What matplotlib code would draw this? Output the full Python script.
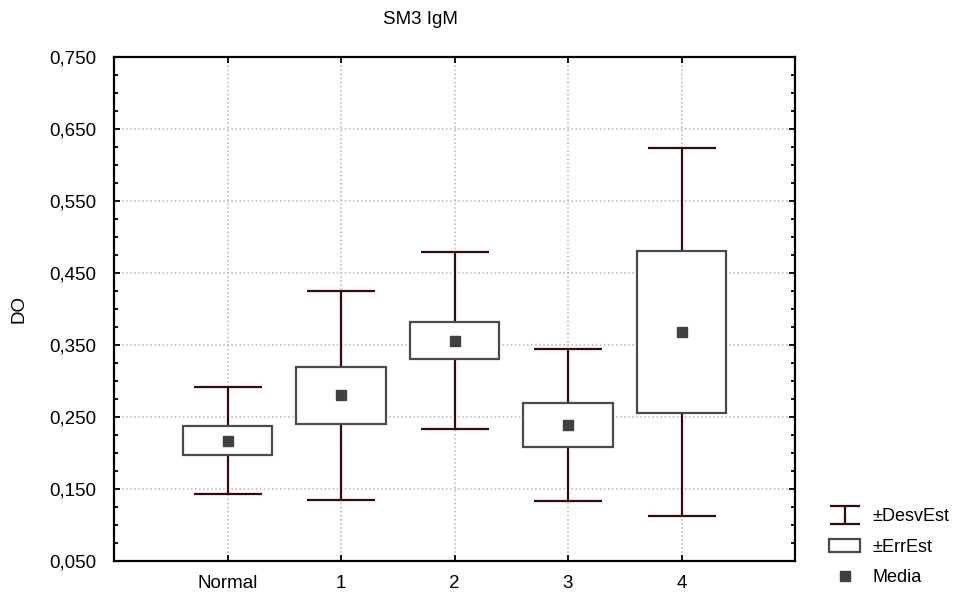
import numpy as np
import matplotlib
matplotlib.use("Agg")
import matplotlib.pyplot as plt
from matplotlib.ticker import FixedLocator, MultipleLocator, FuncFormatter

plt.rcParams['font.family'] = ['Liberation Sans', 'DejaVu Sans']

# data
groups = ["Normal", "1", "2", "3", "4"]
means = [0.217, 0.280, 0.356, 0.239, 0.368]
sd = [0.074, 0.145, 0.123, 0.106, 0.256]   # +-DesvEst (whiskers)
se = [0.020, 0.040, 0.026, 0.030, 0.113]   # +-ErrEst (boxes)

whisker_col = "#3a0808"
box_col = "#4a4a4a"

x = np.arange(len(groups))
means = np.array(means)
sd = np.array(sd)
se = np.array(se)

fig = plt.figure(figsize=(9.55, 5.95), dpi=100)
ax = fig.add_axes([114 / 955, 1 - 561 / 595, 681 / 955, 504 / 595])

ax.errorbar(x, means, yerr=sd, fmt='none', ecolor=whisker_col,
            elinewidth=1.6, capsize=24.5, capthick=1.6, zorder=2)
bars = ax.bar(x, 2 * se, bottom=means - se, width=0.79, facecolor="white",
              edgecolor=box_col, linewidth=1.6, zorder=3)
mk, = ax.plot(x, means, 's', color="#404040", ms=7, zorder=4, linestyle='none')

# legend proxy for the whiskers (smaller caps than the plotted ones)
eb_proxy = ax.errorbar([np.nan], [np.nan], yerr=[1], fmt='none', ecolor=whisker_col,
                       elinewidth=1.6, capsize=11, capthick=1.6)

ax.set_xlim(-1, len(groups))
ax.set_ylim(0.05, 0.75)
ax.set_xticks(x)
ax.set_xticklabels(groups)
ax.yaxis.set_major_locator(FixedLocator(np.arange(0.05, 0.751, 0.1)))
ax.yaxis.set_minor_locator(MultipleLocator(0.025))
ax.yaxis.set_major_formatter(FuncFormatter(lambda v, p: f"{v:.3f}".replace(".", ",")))

ax.grid(True, which='major', linestyle=':', color="#b5b5b5", linewidth=1.1)
ax.set_axisbelow(True)
for s in ax.spines.values():
    s.set_linewidth(1.6)
    s.set_color("black")
ax.tick_params(axis='both', which='major', direction='in', length=4, width=1.3,
               labelsize=13.5, top=True, right=True, pad=13)
ax.tick_params(axis='y', which='minor', direction='in', length=3, width=1.3,
               left=True, right=True)
ax.tick_params(axis='x', pad=10)

ax.set_ylabel("DO", fontsize=13.5, labelpad=15)
fig.text(420 / 955, 1 - 19 / 595, "SM3 IgM", ha='center', va='center', fontsize=13.5)

fig.legend([eb_proxy, bars, mk], ["±DesvEst", "±ErrEst", "Media"],
           loc='upper left', bbox_to_anchor=(813 / 955, 1 - 492 / 595),
           frameon=False, fontsize=13, handlelength=1.7, labelspacing=0.75,
           handletextpad=0.7)

fig.savefig("out.png", dpi=100)
